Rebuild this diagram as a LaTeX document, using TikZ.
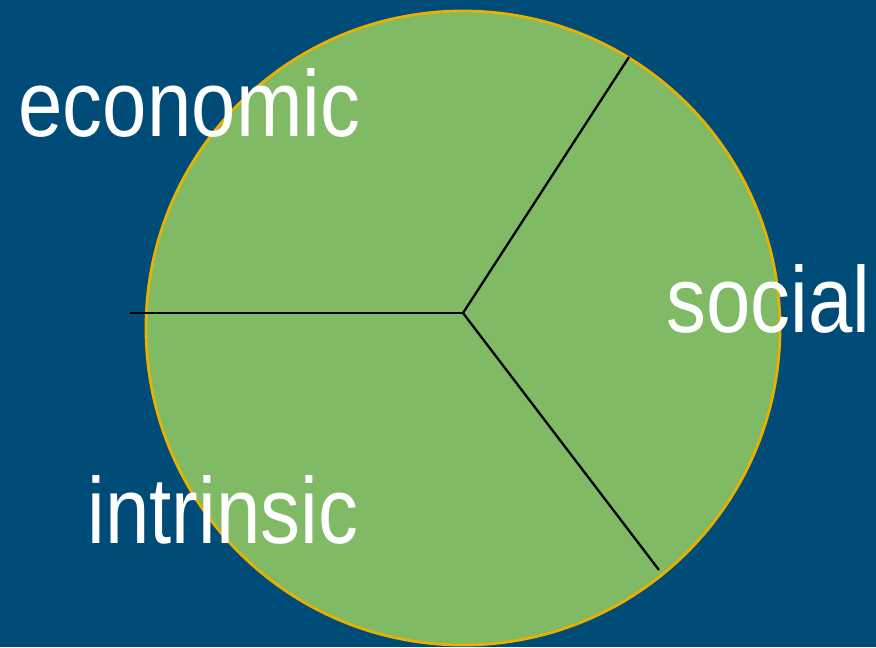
\documentclass[tikz,border=0pt]{standalone}
\usepackage{fontspec}
\setmainfont{Liberation Sans}
\usepackage{xcolor}
\definecolor{fond_bleu}{HTML}{004C78}
\definecolor{vert_disque}{HTML}{80BA65}
\definecolor{bord_or}{HTML}{E8B000}
\begin{document}
\begin{tikzpicture}[x=0.01cm,y=-0.01cm,
    libelle/.style={text=white,inner sep=0pt,anchor=base west,xscale=0.85,
      font=\fontsize{26.7}{30}\selectfont}]

    % Fond bleu aux dimensions de l'image
    \fill[fond_bleu] (0,0) rectangle (876,647);
    \useasboundingbox (0,0) rectangle (876,647);

    % Disque vert avec son bord dore
    \coordinate (C) at (463,328);
    \draw[bord_or, line width=0.8pt, fill=vert_disque] (C) circle (317);

    % Le point commun des trois segments et leurs extremites
    \coordinate (O) at (463,313);
    \coordinate (G) at (130,313);
    \coordinate (H) at (629,57);
    \coordinate (D) at (659,570);

    % Tracer les trois rayons
    \draw[black, line width=0.65pt] (O) -- (G);
    \draw[black, line width=0.65pt] (O) -- (H);
    \draw[black, line width=0.65pt] (O) -- (D);

    % Placer les trois libelles
    \node[libelle] (eco) at (18,136) {economic};
    \node[libelle] (soc) at (666,332) {social};
    \node[libelle] (intr) at (87,543) {intrinsic};
  \end{tikzpicture}
\end{document}
